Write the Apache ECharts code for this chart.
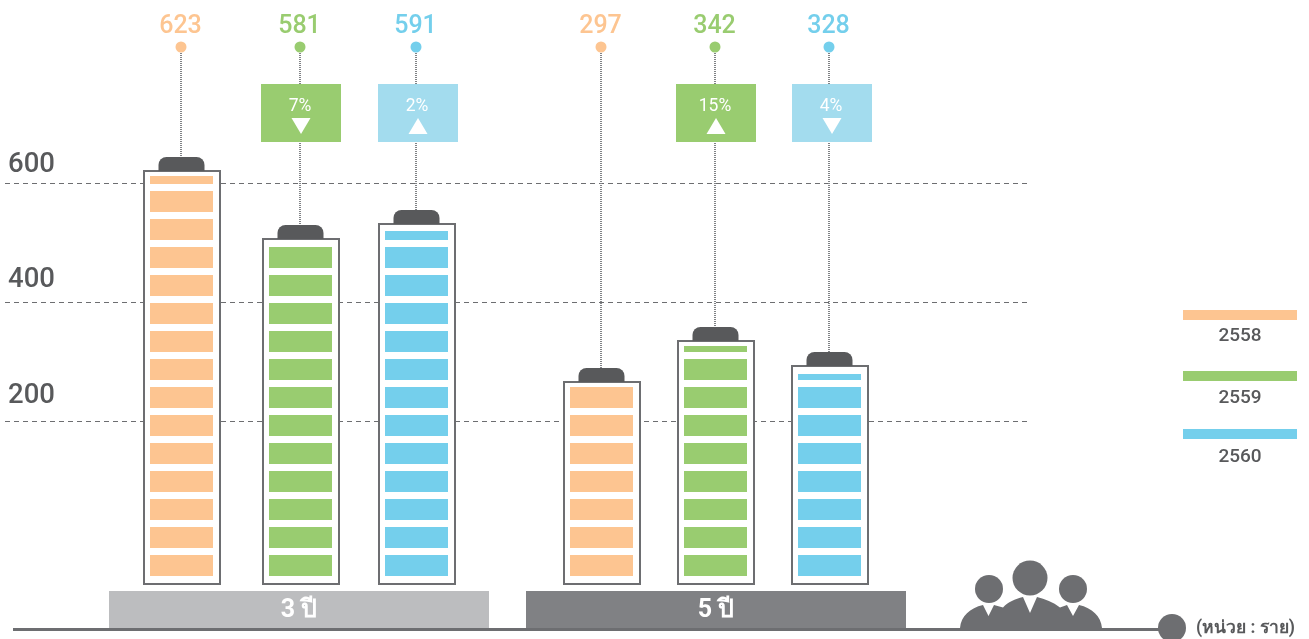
<!DOCTYPE html>
<html><head><meta charset="utf-8">
<style>html,body{margin:0;padding:0;background:#fff}#c{width:1309px;height:639px}</style>
<script src="https://cdn.jsdelivr.net/npm/echarts@6/dist/echarts.min.js"></script>
</head><body><div id="c"></div>
<script>
const categories = ['3 ปี', '5 ปี'];
const years = ['2558', '2559', '2560'];
const yTicks = [200, 400, 600];
const unitLabel = '(หน่วย : ราย)';
// printed totals per year
const values2558 = [623, 297];
const values2559 = [581, 342];
const values2560 = [591, 328];
// height of each drawn column read against the dashed scale
const level2558 = [620, 266];
const level2559 = [506, 335];
const level2560 = [531, 292];
// top of the stripes inside each column, against the same scale
const fill2558 = [611, 257];
const fill2559 = [492, 326];
const fill2560 = [520, 279];
// printed change from the previous year, sign gives arrow direction
const change2559 = [-7, 15];
const change2560 = [2, -4];

const FONT = 'Roboto,"Liberation Sans","Noto Sans","DejaVu Sans",sans-serif';
const colors = ['#FDC591', '#99CC70', '#74CFEC'];
const boxColors = [null, '#99CC70', '#A3DCEE'];
const dark = '#58595B', frameColor = '#6D6E71';
const baseValue = -74;
const offsets = [[-117.5, -114.5], [1.5, -0.5], [117.5, 113.5]];
const boxShift = [[0, 0], [0.5, 0.5], [1.5, 2.5]];
const bandColors = ['#BCBDBF', '#808184'];
const peoplePath = 'M960 628C961 616 970 608 983 605L988.5 616L994 605L1003 607.5C1008 602 1015 599 1023 597L1030 613L1037 597C1045 599 1053 602 1060 607.5L1067 605L1073 616L1079 605C1092 608 1101 616 1102 628Z';

function columnRender(si) {
  return function (params, api) {
    const c = api.value(0);
    const cx = api.coord([c, 0])[0] + offsets[si][c];
    const top = Math.round(api.coord([c, api.value(1)])[1]);
    const fillTop = Math.round(api.coord([c, api.value(2)])[1]);
    const bottom = Math.round(api.coord([c, baseValue])[1]);
    const ch = [];
    const dotY = 47, labelY = 27;
    const lx = Math.round(cx - 0.5);
    ch.push({type:'line', shape:{x1:lx,y1:dotY,x2:lx,y2:top-14}, style:{stroke:'#808285',lineWidth:2,lineDash:[1,1]}});
    ch.push({type:'circle', shape:{cx:cx-0.5,cy:dotY,r:5.5}, style:{fill:colors[si]}});
    ch.push({type:'text', style:{text:String(api.value(3)),x:cx-1,y:labelY,align:'center',verticalAlign:'middle',fill:colors[si],font:'500 25px '+FONT}});
    // frame
    ch.push({type:'rect', shape:{x:cx-37.5,y:top,width:76,height:bottom-top}, style:{fill:'#fff',stroke:frameColor,lineWidth:2}});
    ch.push({type:'rect', shape:{x:cx-23,y:top-14,width:46,height:14,r:[8,8,0,0]}, style:{fill:dark}});
    // stripes, counted up from the bottom
    for (let y = bottom - 29; y + 21 > fillTop; y -= 28) {
      const t = Math.max(y, fillTop);
      ch.push({type:'rect', shape:{x:cx-31.5,y:t,width:63,height:y+21-t}, style:{fill:colors[si]}});
    }
    // change box
    const delta = api.value(4);
    if (si > 0) {
      const bx = cx + boxShift[si][c];
      ch.push({type:'rect', shape:{x:bx-40,y:84,width:80,height:58}, style:{fill:boxColors[si]}});
      ch.push({type:'text', style:{text:Math.abs(delta)+'%',x:bx-1,y:107,align:'center',verticalAlign:'middle',fill:'#fff',font:'400 17.5px '+FONT}});
      const pts = delta < 0 ? [[bx-9.5,118],[bx+9.5,118],[bx,134]] : [[bx-9.5,134],[bx+9.5,134],[bx,118]];
      ch.push({type:'polygon', shape:{points:pts}, style:{fill:'#fff'}});
    }
    return {type:'group', children:ch};
  };
}
function bandRender(params, api) {
  const c = api.value(0);
  const cx = api.coord([c, 0])[0];
  const ch = [
    {type:'rect', shape:{x:cx-190,y:591,width:380,height:37}, style:{fill:bandColors[c]}},
    {type:'text', style:{text:categories[c],x:cx,y:611,align:'center',verticalAlign:'middle',fill:'#fff',font:'bold 25px '+FONT}}
  ];
  if (c === 1) ch.push({type:'path', shape:{pathData:peoplePath}, style:{fill:frameColor}});
  return {type:'group', children:ch};
}
const levels = [level2558, level2559, level2560];
const fills = [fill2558, fill2559, fill2560];
const totals = [values2558, values2559, values2560];
const changes = [[0,0], change2559, change2560];

const series = [{
  type:'custom', name:'band', xAxisIndex:1, yAxisIndex:1, renderItem:bandRender, silent:true,
  encode:{x:0,y:1}, data:categories.map((_,i)=>[i,0])
}].concat(years.map((y,si)=>({
  type:'custom', name:y, xAxisIndex:1, yAxisIndex:1, renderItem:columnRender(si), silent:true,
  encode:{x:0,y:1},
  data:categories.map((_,i)=>[i,levels[si][i],fills[si][i],totals[si][i],changes[si][i]])
})));

const legendY = [310, 371, 429];
const legendTextY = [336, 398, 457];
const graphic = [
  {type:'rect', z:1, shape:{x:13,y:628,width:1157,height:3}, style:{fill:frameColor}},
  {type:'circle', z:1, shape:{cx:1172,cy:628,r:14}, style:{fill:frameColor}},
  {type:'text', z:1, style:{text:unitLabel,x:1196,y:629,verticalAlign:'middle',fill:dark,font:'bold 17.5px '+FONT}},
  {type:'circle', z:1, shape:{cx:989,cy:589,r:14}, style:{fill:frameColor}},
  {type:'circle', z:1, shape:{cx:1030,cy:578,r:17.5}, style:{fill:frameColor}},
  {type:'circle', z:1, shape:{cx:1073,cy:589,r:14}, style:{fill:frameColor}}
];
years.forEach((y,i)=>{
  graphic.push({type:'rect', shape:{x:1183,y:legendY[i],width:114,height:10}, style:{fill:colors[i]}});
  graphic.push({type:'text', style:{text:y,x:1240,y:legendTextY[i],align:'center',verticalAlign:'middle',fill:dark,font:'500 19px '+FONT}});
});

const labelBase = {fontSize:27.5, fontWeight:500, fontFamily:FONT, color:dark};
const chart = echarts.init(document.getElementById('c'), null, {renderer:'canvas'});
chart.setOption({
  animation:false,
  backgroundColor:'#fff',
  grid:[
    {left:5, width:1023, top:183, height:238},
    {left:90.5, width:834, top:183, height:238}
  ],
  xAxis:[
    {gridIndex:0, type:'value', min:0, max:1, show:false},
    {gridIndex:1, type:'category', data:categories, show:false}
  ],
  yAxis:[
    {gridIndex:0, type:'value', min:yTicks[0], max:yTicks[2], interval:yTicks[0],
     axisLine:{show:false}, axisTick:{show:false},
     splitLine:{show:true, lineStyle:{color:frameColor,type:[5,4],width:1}},
     axisLabel:{inside:true, margin:3, verticalAlign:'bottom', color:dark,
       formatter:v=>'{l'+v+'|'+v+'}',
       rich:{
         l600:Object.assign({padding:[0,0,4,0]},labelBase),
         l400:Object.assign({padding:[0,0,8,0]},labelBase),
         l200:Object.assign({padding:[0,0,11,0]},labelBase)
       }}},
    {gridIndex:1, type:'value', min:yTicks[0], max:yTicks[2], interval:yTicks[0], show:false}
  ],
  graphic:graphic,
  series:series
});
</script></body></html>
